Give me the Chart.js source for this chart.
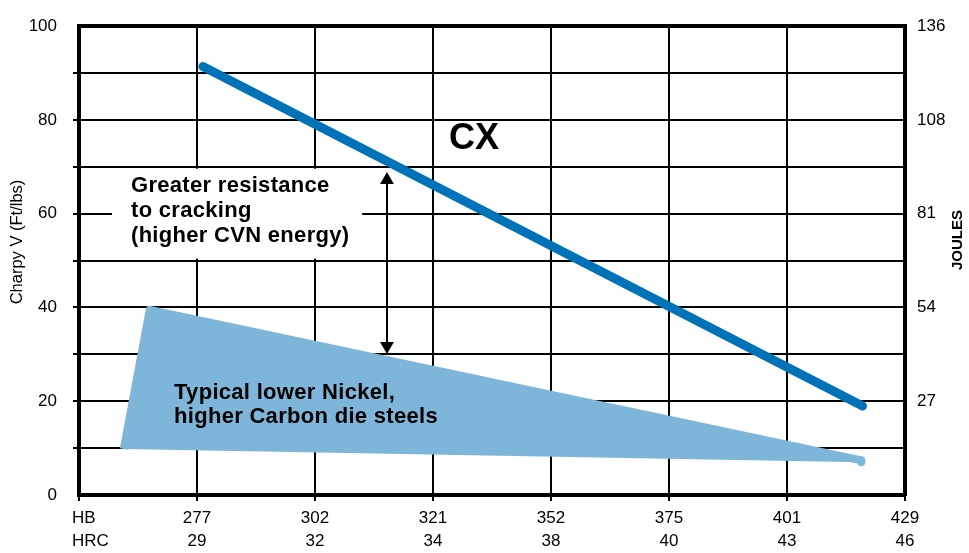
<!DOCTYPE html>
<html>
<head>
<meta charset="utf-8">
<script src="https://cdn.jsdelivr.net/npm/chart.js@4/dist/chart.umd.min.js"></script>
<style>
html, body { margin: 0; padding: 0; background: #fff; }
#contenedor { width: 969px; height: 553px; }
</style>
</head>
<body>
<div id="contenedor"><canvas id="grafico"></canvas></div>
<script>
// Etiquetas del eje X (dureza)
var durezaHB = ["277", "302", "321", "352", "375", "401", "429"];
var durezaHRC = ["29", "32", "34", "38", "40", "43", "46"];
// Etiquetas del eje derecho (julios), una cada 20 Ft/lbs
var julios = ["", "27", "54", "81", "108", "136"];

// Linea CX (posicion en el eje de dureza, Charpy V)
var cxX = [1.05, 6.64];
var cxY = [91.4, 19.0];

// Zona de aceros de bajo niquel / alto carbono
var aceroX = [0.38, 0.60, 6.63, 6.63];
var aceroY = [9.8, 39.5, 7.4, 7.0];

// Flecha doble entre ambos
var flechaX = [2.61, 2.61];
var flechaY = [67.2, 31.8];

function puntos(xs, ys) {
    return xs.map(function (x, i) { return { x: x, y: ys[i] }; });
}

Chart.defaults.font.family = "'Liberation Sans', Arial, sans-serif";
Chart.defaults.color = "#000";

// Textos, recuadro blanco y titulos de ejes
var anotaciones = {
    id: "anotaciones",
    beforeDatasetsDraw: function (chart) {
        var ctx = chart.ctx, x = chart.scales.x, y = chart.scales.y;
        ctx.save();
        ctx.fillStyle = "#fff";
        var x0 = x.getPixelForValue(0.28), x1 = x.getPixelForValue(2.40);
        var y0 = y.getPixelForValue(69.6), y1 = y.getPixelForValue(50.4);
        ctx.fillRect(x0, y0, x1 - x0, y1 - y0);
        ctx.restore();
    },
    afterDraw: function (chart) {
        var ctx = chart.ctx, area = chart.chartArea;
        ctx.save();
        ctx.fillStyle = "#000";
        ctx.textAlign = "left";
        ctx.textBaseline = "alphabetic";

        ctx.font = "bold 36px 'Liberation Sans', Arial, sans-serif";
        ctx.fillText("CX", 449, 149);

        ctx.font = "bold 22px 'Liberation Sans', Arial, sans-serif";
        ctx.letterSpacing = "0.3px";
        ctx.fillText("Greater resistance", 131, 192);
        ctx.fillText("to cracking", 131, 217);
        ctx.fillText("(higher CVN energy)", 131, 242);
        ctx.fillText("Typical lower Nickel,", 174, 399);
        ctx.fillText("higher Carbon die steels", 174, 423);
        ctx.letterSpacing = "0px";

        // HB / HRC a la izquierda de las etiquetas inferiores
        ctx.font = "17px 'Liberation Sans', Arial, sans-serif";
        ctx.textBaseline = "middle";
        ctx.fillText("HB", 72, area.bottom + 23);
        ctx.fillText("HRC", 72, area.bottom + 46);

        // Titulos de los ejes verticales
        ctx.textAlign = "center";
        ctx.save();
        ctx.translate(17, 242);
        ctx.rotate(-Math.PI / 2);
        ctx.font = "16.5px 'Liberation Sans', Arial, sans-serif";
        ctx.fillText("Charpy V (Ft/lbs)", 0, 0);
        ctx.restore();
        ctx.save();
        ctx.translate(958, 240);
        ctx.rotate(-Math.PI / 2);
        ctx.font = "bold 15px 'Liberation Sans', Arial, sans-serif";
        ctx.fillText("JOULES", 0, 0);
        ctx.restore();
        ctx.restore();
    }
};

function cargaGrafico() {
    var datos = {
        datasets: [{
            label: "Flecha",
            data: puntos(flechaX, flechaY),
            showLine: true,
            borderColor: "#000",
            backgroundColor: "#000",
            borderWidth: 2,
            pointStyle: "triangle",
            pointRadius: 8,
            pointRotation: [0, 180],
            pointBorderWidth: 0,
            order: 0
        }, {
            label: "CX",
            data: puntos(cxX, cxY),
            showLine: true,
            borderColor: "#0072b8",
            borderWidth: 9,
            borderCapStyle: "round",
            pointRadius: 0,
            order: 1
        }, {
            label: "Aceros",
            data: puntos(aceroX, aceroY),
            showLine: true,
            fill: "shape",
            borderColor: "#7db6d9",
            backgroundColor: "#7db6d9",
            borderWidth: 8,
            borderJoinStyle: "round",
            pointRadius: 0,
            order: 2
        }]
    };

    var config = {
        type: "scatter",
        data: datos,
        plugins: [anotaciones],
        options: {
            responsive: true,
            maintainAspectRatio: false,
            animation: false,
            layout: { padding: { top: 17, left: 0, right: 0, bottom: 0 } },
            plugins: {
                legend: { display: false },
                tooltip: { enabled: false }
            },
            scales: {
                x: {
                    type: "linear",
                    min: 0,
                    max: 7,
                    afterFit: function (s) { s.height = 58; },
                    border: { color: "#000", width: 4 },
                    grid: {
                        color: "#000",
                        lineWidth: function (c) { return c.tick && c.tick.value === 7 ? 4 : 2; },
                        tickLength: 6,
                        tickWidth: 2
                    },
                    ticks: {
                        stepSize: 1,
                        autoSkip: false,
                        maxRotation: 0,
                        padding: 6,
                        font: { size: 17, lineHeight: 1.35 },
                        callback: function (v) {
                            return v >= 1 ? [durezaHB[v - 1], durezaHRC[v - 1]] : "";
                        }
                    }
                },
                y: {
                    position: "left",
                    min: 0,
                    max: 100,
                    afterFit: function (s) { s.width = 79; },
                    border: { color: "#000", width: 4 },
                    grid: {
                        color: "#000",
                        lineWidth: function (c) { return c.tick && c.tick.value === 100 ? 4 : 2; },
                        tickLength: 6,
                        tickWidth: 2,
                        tickColor: function (c) {
                            return c.tick && (c.tick.value === 0 || c.tick.value === 100) ? "rgba(0,0,0,0)" : "#000";
                        }
                    },
                    ticks: {
                        stepSize: 10,
                        padding: 16,
                        font: { size: 17 },
                        callback: function (v) { return v % 20 === 0 ? String(v) : ""; }
                    }
                },
                y2: {
                    position: "right",
                    min: 0,
                    max: 100,
                    afterFit: function (s) { s.width = 64; },
                    border: { color: "#000", width: 4 },
                    grid: { display: false, drawTicks: false },
                    ticks: {
                        stepSize: 20,
                        padding: 12,
                        font: { size: 17 },
                        callback: function (v) { return julios[v / 20]; }
                    }
                }
            }
        }
    };

    new Chart(document.getElementById("grafico").getContext("2d"), config);
}

cargaGrafico();
</script>
</body>
</html>
